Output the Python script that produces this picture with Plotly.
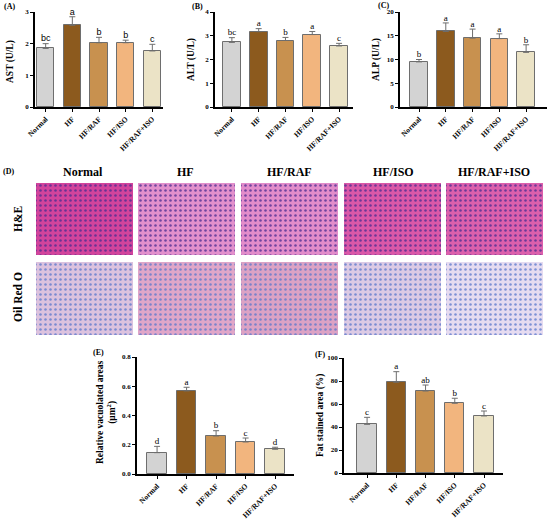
import plotly.graph_objects as go

# grupos y colores
grupos = ["Normal", "HF", "HF/RAF", "HF/ISO", "HF/RAF+ISO"]
colores = ["#d3d3d3", "#8c5a1e", "#c8914f", "#f2b57e", "#ebe3c6"]

# (A) AST
ast_media = [1.85, 2.58, 2.03, 2.03, 1.77]
ast_err = [0.15, 0.27, 0.17, 0.08, 0.21]
ast_letras = ["bc", "a", "b", "b", "c"]

# (B) ALT
alt_media = [2.72, 3.17, 2.80, 3.05, 2.57]
alt_err = [0.20, 0.13, 0.13, 0.13, 0.11]
alt_letras = ["bc", "a", "b", "a", "c"]

# (C) ALP
alp_media = [9.5, 15.9, 14.5, 14.4, 11.5]
alp_err = [0.5, 1.8, 1.9, 1.0, 1.6]
alp_letras = ["b", "a", "a", "a", "b"]

# (E) areas vacuoladas
vac_media = [0.146, 0.568, 0.26, 0.219, 0.169]
vac_err = [0.043, 0.025, 0.036, 0.027, 0.014]
vac_letras = ["d", "a", "b", "c", "d"]

# (F) area grasa
fat_media = [42.3, 78.9, 71.3, 60.6, 49.6]
fat_err = [6.1, 9.2, 5.2, 4.4, 4.3]
fat_letras = ["c", "a", "ab", "b", "c"]

# (D) histologia (colores aproximados de cada foto)
filas = ["H&E", "Oil Red O"]
he_fondo = ["#d2449c", "#e290cc", "#e28cca", "#da58a8", "#dc60ac"]
oro_fondo = ["#dcc2de", "#e0a6c8", "#dca2c4", "#dccae4", "#e6dbf0"]
nucleos = ["#4a2c90", "#5a78cc"]

W, H = 550, 523
SERIF = "Liberation Serif"


def fx(p):
    return p / W


def fy(p):
    return 1 - p / H


def nota(x, y, texto, size, angulo=0, familia=SERIF):
    return dict(x=fx(x), y=fy(y), text=texto, showarrow=False, xref="paper", yref="paper",
                xanchor="center", yanchor="middle", textangle=angulo,
                font=dict(family=familia, size=size, color="black", weight="bold"))


fig = go.Figure()
layout = {}
notas = []

paneles = [
    # datos, ytitulo, rango y, dtick, formato, dominio x px, dominio y px, rango x, letra, pos letra, pos titulo, fuente letras
    (ast_media, ast_err, ast_letras, "AST (U/L)", [0, 3], 1, "", (35, 163), (12, 107), [-0.4, 4.4], "(A)", (9, 6), (10, 62), "Liberation Sans"),
    (alt_media, alt_err, alt_letras, "ALT (U/L)", [0, 4], 1, "", (215, 353), (12, 107), [-0.63, 4.52], "(B)", (197, 6), (192, 60), SERIF),
    (alp_media, alp_err, alp_letras, "ALP (U/L)", [0, 20], 5, "", (400, 547), (12, 107), [-0.71, 4.78], "(C)", (383, 5), (377, 60), SERIF),
    (vac_media, vac_err, vac_letras, "Relative vacuolated areas<br>(μm<sup>2</sup>)", [0, 0.8], 0.2, ".1f", (137, 294), (357, 474), [-0.68, 4.64], "(E)", (98, 352), (106, 412), SERIF),
    (fat_media, fat_err, fat_letras, "Fat stained area (%)", [0, 100], 20, "", (344, 503), (358, 473), [-0.79, 4.65], "(F)", (320, 354), (320, 416), SERIF),
]

for i, (media, err, letras, ytit, yr, dt, fmt, xd, yd, xr, lab, labpos, titpos, fletra) in enumerate(paneles):
    n = "" if i == 0 else str(i + 1)
    xa, ya = "x" + n, "y" + n
    fig.add_trace(go.Bar(
        x=grupos, y=media, xaxis=xa, yaxis=ya, width=0.66,
        marker=dict(color=colores, line=dict(color="#6e6e6e", width=1)),
        error_y=dict(type="data", symmetric=False, array=err, arrayminus=[0] * 5,
                     color="#6e6e6e", thickness=1, width=3),
        showlegend=False,
    ))
    fig.add_trace(go.Scatter(
        x=grupos, y=[m + e for m, e in zip(media, err)], xaxis=xa, yaxis=ya,
        mode="text", text=letras, textposition="top center",
        textfont=dict(family=fletra, size=9, color="black"),
        cliponaxis=False, showlegend=False,
    ))
    layout["xaxis" + n] = dict(
        domain=[fx(xd[0]), fx(xd[1])], anchor=ya, range=xr, automargin=False,
        showline=True, linecolor="black", linewidth=1.5,
        ticks="outside", ticklen=3, tickcolor="black", tickwidth=1,
        tickangle=-45, tickfont=dict(family=SERIF, size=7.5, color="black", weight="bold"),
        showgrid=False, zeroline=False,
    )
    layout["yaxis" + n] = dict(
        domain=[fy(yd[1]), fy(yd[0])], anchor=xa, range=yr, dtick=dt, tickformat=fmt, automargin=False,
        showline=True, linecolor="black", linewidth=1.5,
        ticks="outside", ticklen=3, tickcolor="black", tickwidth=1,
        tickfont=dict(family=SERIF, size=7, color="black", weight="bold"),
        showgrid=False, zeroline=False,
    )
    notas.append(nota(labpos[0], labpos[1], lab, 8))
    notas.append(nota(titpos[0], titpos[1], ytit, 9.5, -90))

# (D) fotos de histologia: bloque de color + capa de puntos (nucleos)
for j, (fondo, yd) in enumerate([(he_fondo, (183, 255)), (oro_fondo, (262, 335))]):
    ya = "y" + str(6 + j)
    fig.add_trace(go.Bar(
        x=grupos, y=[1] * 5, xaxis="x6", yaxis=ya, width=0.945,
        marker=dict(color=fondo, line=dict(width=0)),
        showlegend=False, hoverinfo="skip",
    ))
    fig.add_trace(go.Bar(
        x=grupos, y=[1] * 5, xaxis="x6", yaxis=ya, width=0.945,
        marker=dict(color=nucleos[j], line=dict(width=0),
                    pattern=dict(shape=".", size=5, solidity=0.2, fillmode="replace")),
        opacity=0.75, showlegend=False, hoverinfo="skip",
    ))
    layout["yaxis" + str(6 + j)] = dict(domain=[fy(yd[1]), fy(yd[0])], anchor="x6", range=[0, 1],
                                         visible=False, automargin=False)
layout["xaxis6"] = dict(domain=[fx(33), fx(546)], anchor="y6", range=[-0.5, 4.5], visible=False, automargin=False)

for g, cx in zip(grupos, [83, 185, 289, 393, 494]):
    notas.append(nota(cx, 172, g, 12))
for f, cy in zip(filas, [219, 297]):
    notas.append(nota(18, cy, f, 11.5, -90))
notas.append(nota(8, 172, "(D)", 8))

fig.update_layout(
    width=W, height=H, margin=dict(l=0, r=0, t=0, b=0),
    paper_bgcolor="white", plot_bgcolor="white",
    barmode="overlay", bargap=0, annotations=notas, **layout,
)
fig.write_html("out.html", config={"displayModeBar": False},
               post_script="document.body.style.margin='0';")
